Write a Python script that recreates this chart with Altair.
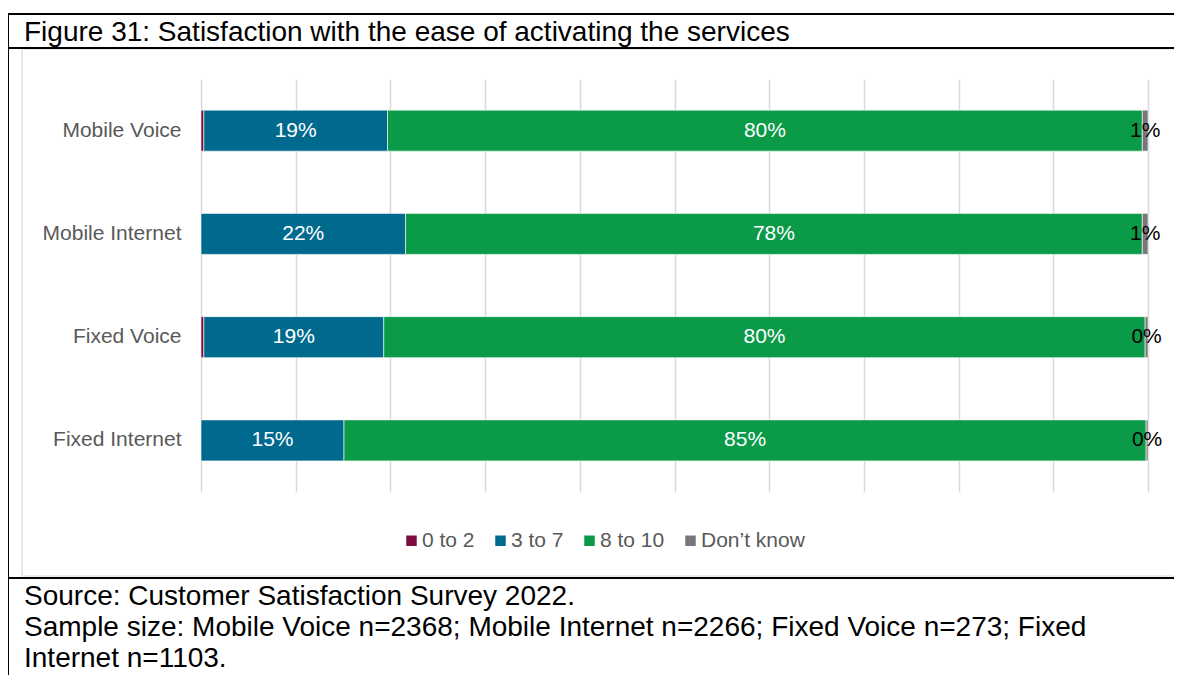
import altair as alt
import pandas as pd

services = ["Mobile Voice", "Mobile Internet", "Fixed Voice", "Fixed Internet"]
groups = ["0 to 2", "3 to 7", "8 to 10", "Don\u2019t know"]
colors = ["#7B0D3F", "#006A8E", "#0A9A48", "#77787B"]
v_0_2 = [0.3, 0.0, 0.3, 0.0]
v_3_7 = [19.4, 21.6, 19.0, 15.1]
v_8_10 = [79.7, 77.8, 80.4, 84.7]
v_dk = [0.6, 0.6, 0.3, 0.2]
grid_ticks = [0, 10, 20, 30, 40, 50, 60, 70, 80, 90, 100]

title_text = "Figure 31: Satisfaction with the ease of activating the services"
source_lines = [
    "Source: Customer Satisfaction Survey 2022.",
    "Sample size: Mobile Voice n=2368; Mobile Internet n=2266; Fixed Voice n=273; Fixed",
    "Internet n=1103.",
]

FONT = "Liberation Sans"

rows = []
for i, s in enumerate(services):
    start = 0.0
    for k, (g, vals) in enumerate(zip(groups, [v_0_2, v_3_7, v_8_10, v_dk])):
        v = vals[i]
        rows.append(dict(service=s, group=g, order=k, value=v, start=start,
                         end=start + v, mid=start + v / 2, label=f"{round(v)}%"))
        start += v
df = pd.DataFrame(rows)

W, H = 947, 413

x_scale = alt.Scale(domain=[0, 100], nice=False, zero=True)
y_enc = alt.Y("service:N", sort=services, title=None,
              axis=alt.Axis(labelFontSize=21, labelColor="#595959", labelFont=FONT,
                            ticks=False, domain=False, labelPadding=20, grid=False))

base = alt.Chart(df)

bars = base.mark_bar(size=41, stroke="white", strokeWidth=0.6).encode(
    x=alt.X("start:Q", scale=x_scale, title=None,
            axis=alt.Axis(values=grid_ticks, labels=False, ticks=False, domain=False,
                          grid=True, gridColor="#D9D9D9", gridWidth=1.5)),
    x2="end:Q",
    y=y_enc,
    color=alt.Color("group:N", scale=alt.Scale(domain=groups, range=colors),
                    legend=alt.Legend(orient="none", legendX=200, legendY=451,
                                      direction="horizontal", title=None,
                                      symbolType="square", symbolSize=110,
                                      symbolStrokeWidth=0, labelFontSize=21,
                                      labelFont=FONT, labelColor="#595959",
                                      labelOffset=0, columnPadding=15)),
    order=alt.Order("order:Q"),
)

white_labels = base.transform_filter(
    alt.FieldOneOfPredicate(field="group", oneOf=["3 to 7", "8 to 10"])
).mark_text(font=FONT, fontSize=21, color="white").encode(
    x=alt.X("mid:Q", scale=x_scale), y=alt.Y("service:N", sort=services), text="label:N")

dk_labels = base.transform_filter(
    alt.FieldEqualPredicate(field="group", equal="Don\u2019t know")
).mark_text(font=FONT, fontSize=21, color="#000000").encode(
    x=alt.X("mid:Q", scale=x_scale), y=alt.Y("service:N", sort=services), text="label:N")

one = alt.Chart(pd.DataFrame({"a": [0]}))
# frame (relative to plot origin at page (201, 79))
frame_rules = [
    dict(x=-194, x2=990, y=-65, y2=-65, c="#000000", w=2),
    dict(x=-194, x2=990, y=-31, y2=-31, c="#000000", w=2),
    dict(x=-194, x2=990, y=499, y2=499, c="#000000", w=2),
    dict(x=-193, x2=-193, y=-66, y2=700, c="#000000", w=2),
]
frame = []
for r in frame_rules:
    frame.append(one.mark_rule(color=r["c"], strokeWidth=r["w"]).encode(
        x=alt.value(r["x"]), x2=alt.value(r["x2"]), y=alt.value(r["y"]), y2=alt.value(r["y2"])))
chart_box = one.mark_rect(fill=None, stroke="#D9D9D9", strokeWidth=1.2).encode(
    x=alt.value(-179), x2=alt.value(977), y=alt.value(-30), y2=alt.value(497))

title = one.mark_text(font=FONT, fontSize=28, align="left", baseline="alphabetic",
                      color="#000000").encode(
    x=alt.value(-177), y=alt.value(-38), text=alt.value(title_text))

src = []
for j, line in enumerate(source_lines):
    src.append(one.mark_text(font=FONT, fontSize=28, align="left", baseline="alphabetic",
                             color="#000000").encode(
        x=alt.value(-177), y=alt.value(526 + 31 * j), text=alt.value(line)))

chart = alt.layer(chart_box, bars, white_labels, dk_labels, title, *src, *frame).properties(
    width=W, height=H,
    padding={"left": 193, "top": 71, "right": 26, "bottom": 183},
    autosize=alt.AutoSizeParams(type="none"),
    background="white",
).configure_view(stroke=None)

chart.save("out.html", embed_options={"renderer": "svg", "actions": False})
